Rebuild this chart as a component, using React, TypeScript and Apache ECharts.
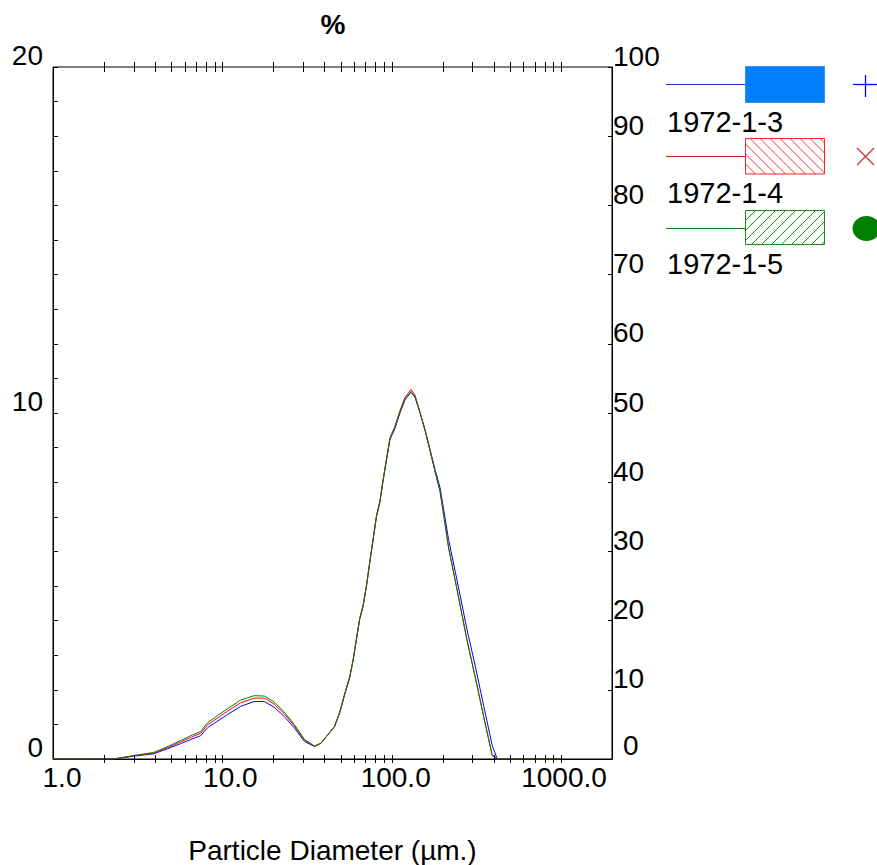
import React, { useEffect, useRef } from "react";
import * as echarts from "echarts";

// Particle diameters (µm)
const sizes = [1.0, 2.0, 2.27, 2.99, 3.93, 4.71, 5.65, 6.48, 7.43, 8.15, 9.34, 10.7, 12.8, 15.4, 17.7, 20.2, 23.2, 26.6, 30.5, 35.0, 38.3, 42.0, 46.0, 49.3, 52.7, 56.5, 59.2, 61.9, 64.7, 67.8, 71.0, 74.2, 77.7, 81.4, 85.1, 89.2, 93.3, 97.6, 104.5, 111.9, 119.8, 130.0, 137.3, 147.1, 157.4, 168.6, 180.5, 193.3, 216.8, 242.9, 278.5, 311.9, 349.9, 392.0, 419.8, 1000];

const s1972_1_3 = [0, 0, 0, 0.08, 0.15, 0.29, 0.44, 0.56, 0.67, 0.90, 1.09, 1.28, 1.52, 1.66, 1.66, 1.50, 1.23, 0.90, 0.51, 0.36, 0.46, 0.70, 0.94, 1.33, 1.85, 2.35, 2.85, 3.45, 4.03, 4.41, 4.99, 5.66, 6.34, 7.01, 7.40, 8.07, 8.65, 9.23, 9.55, 10.0, 10.38, 10.60, 10.46, 10.0, 9.52, 8.94, 8.36, 7.83, 6.34, 5.18, 3.74, 2.68, 1.52, 0.40, 0, 0];

const s1972_1_4 = [0, 0, 0, 0.09, 0.17, 0.32, 0.49, 0.62, 0.74, 0.98, 1.18, 1.38, 1.62, 1.76, 1.76, 1.59, 1.31, 0.96, 0.55, 0.37, 0.46, 0.70, 0.95, 1.35, 1.88, 2.38, 2.88, 3.48, 4.06, 4.45, 5.03, 5.70, 6.38, 7.05, 7.45, 8.12, 8.70, 9.28, 9.62, 10.07, 10.45, 10.68, 10.52, 10.02, 9.50, 8.90, 8.30, 7.72, 6.12, 4.92, 3.45, 2.36, 1.22, 0.12, 0, 0];

const s1972_1_5 = [0, 0, 0, 0.10, 0.19, 0.35, 0.53, 0.67, 0.79, 1.04, 1.25, 1.45, 1.70, 1.83, 1.82, 1.65, 1.36, 1.00, 0.57, 0.37, 0.46, 0.70, 0.94, 1.33, 1.86, 2.36, 2.86, 3.46, 4.04, 4.43, 5.01, 5.68, 6.36, 7.03, 7.42, 8.09, 8.67, 9.25, 9.58, 10.03, 10.40, 10.62, 10.47, 10.0, 9.50, 8.90, 8.30, 7.72, 6.10, 4.90, 3.42, 2.34, 1.20, 0.10, 0, 0];

const seriesNames = ["1972-1-3", "1972-1-4", "1972-1-5"];
const seriesColors = ["#0000ff", "#ff0000", "#008000"];

// minor/major tick positions on the log axis
const xTicks = [2, 3, 4, 5, 6, 7, 8, 9, 10, 20, 30, 40, 50, 60, 70, 80, 90, 100, 200, 300, 400, 500, 600, 700, 800, 900, 1000];

const FONT = '"Liberation Sans", Arial, sans-serif';

function hatch(x0: number, y0: number, w: number, h: number, dir: number, color: string, step: number) {
  const out: any[] = [];
  const x1 = x0 + w;
  const y1 = y0 + h;
  for (let c = x0 - h; c < x1; c += step) {
    const sx = Math.max(c, x0);
    const ex = Math.min(c + h, x1);
    if (ex <= sx) continue;
    let ya: number, yb: number;
    if (dir > 0) {
      ya = y0 + (sx - c);
      yb = y0 + (ex - c);
    } else {
      ya = y1 - (sx - c);
      yb = y1 - (ex - c);
    }
    out.push({ type: "line", silent: true, shape: { x1: sx, y1: ya, x2: ex, y2: yb }, style: { stroke: color, lineWidth: 1 } });
  }
  return out;
}

export default function App() {
  const ref = useRef<HTMLDivElement>(null);
  useEffect(() => {
    if (!ref.current) return;
    const chart = echarts.init(ref.current, null, { renderer: "svg" });
    const seriesData = [s1972_1_3, s1972_1_4, s1972_1_5];
    const pads: Record<number, number> = { 0: 18, 1: 16, 2: 8, 3: 6 };
    const rich: any = {};
    [0, 1, 2, 3].forEach((k) => {
      rich["p" + k] = { fontSize: 28, fontFamily: FONT, color: "#000", padding: [0, 0, 0, pads[k]] };
    });

    const legend: any[] = [];
    // blue
    legend.push({ type: "line", shape: { x1: 666, y1: 84.5, x2: 746, y2: 84.5 }, style: { stroke: "#2020e0", lineWidth: 1 } });
    legend.push({ type: "rect", shape: { x: 745.5, y: 66.5, width: 79, height: 36 }, style: { fill: "#0080ff", stroke: "#3a8ee8", lineWidth: 1 } });
    legend.push({ type: "line", shape: { x1: 853, y1: 84.5, x2: 877, y2: 84.5 }, style: { stroke: "#0000ff", lineWidth: 1.3 } });
    legend.push({ type: "line", shape: { x1: 865.5, y1: 75, x2: 865.5, y2: 97 }, style: { stroke: "#0000ff", lineWidth: 1.3 } });
    legend.push({ type: "text", x: 667, y: 121.5, style: { text: seriesNames[0], font: `29px ${FONT}`, fill: "#000", verticalAlign: "middle" } });
    // red
    legend.push({ type: "line", shape: { x1: 666, y1: 156.5, x2: 746, y2: 156.5 }, style: { stroke: "#e02020", lineWidth: 1 } });
    legend.push(...hatch(745.5, 138.5, 79, 35.5, 1, "#ff3030", 10));
    legend.push({ type: "rect", shape: { x: 745.5, y: 138.5, width: 79, height: 35.5 }, style: { fill: "none", stroke: "#ff2020", lineWidth: 1 } });
    legend.push({ type: "line", shape: { x1: 857, y1: 148, x2: 874, y2: 165 }, style: { stroke: "#c03838", lineWidth: 1.2 } });
    legend.push({ type: "line", shape: { x1: 857, y1: 165, x2: 874, y2: 148 }, style: { stroke: "#c03838", lineWidth: 1.2 } });
    legend.push({ type: "text", x: 667, y: 193, style: { text: seriesNames[1], font: `29px ${FONT}`, fill: "#000", verticalAlign: "middle" } });
    // green
    legend.push({ type: "line", shape: { x1: 666, y1: 228.5, x2: 746, y2: 228.5 }, style: { stroke: "#108010", lineWidth: 1 } });
    legend.push(...hatch(745.5, 210.5, 79, 34, -1, "#00a000", 10));
    legend.push({ type: "rect", shape: { x: 745.5, y: 210.5, width: 79, height: 34 }, style: { fill: "none", stroke: "#1a8a1a", lineWidth: 1 } });
    legend.push({ type: "ellipse", shape: { cx: 866.5, cy: 228.5, rx: 14, ry: 12.5 }, style: { fill: "#008000" } });
    legend.push({ type: "text", x: 667, y: 263.5, style: { text: seriesNames[2], font: `29px ${FONT}`, fill: "#000", verticalAlign: "middle" } });
    // title
    legend.push({ type: "text", x: 333, y: 24, style: { text: "%", font: `bold 28px ${FONT}`, fill: "#000", align: "center", verticalAlign: "middle" } });

    const option: any = {
      animation: false,
      backgroundColor: "#fff",
      grid: {
        left: 53, right: 265, top: 67, bottom: 106,
        containLabel: false, outerBoundsMode: "none",
        show: true, borderColor: "#000", borderWidth: 1, backgroundColor: "transparent",
      },
      xAxis: [
        {
          type: "log",
          logBase: 10,
          min: 1,
          max: 2000,
          position: "bottom",
          axisLine: { show: true, lineStyle: { color: "#000", width: 1 } },
          axisTick: { show: false },
          minorTick: { show: false },
          splitLine: { show: false },
          axisLabel: {
            show: true,
            margin: 4,
            showMaxLabel: false,
            formatter: (v: number) => {
              const l = Math.log10(v);
              const r = Math.round(l);
              if (Math.abs(l - r) > 1e-6 || r < 0 || r > 3) return "";
              return `{p${r}|${Math.pow(10, r).toFixed(1)}}`;
            },
            rich,
            fontSize: 28,
            fontFamily: FONT,
            color: "#000",
          },
          name: "Particle Diameter (µm.)",
          nameLocation: "middle",
          nameGap: 77,
          nameTextStyle: { fontSize: 28, fontFamily: FONT, color: "#000" },
        },
      ],
      yAxis: [
        {
          type: "value",
          min: 0,
          max: 20,
          interval: 1,
          position: "left",
          axisLine: { show: true, lineStyle: { color: "#000", width: 1 } },
          axisTick: { show: true, inside: true, length: 5, lineStyle: { color: "#000" } },
          splitLine: { show: false },
          axisLabel: {
            formatter: (v: number) => (v % 10 === 0 ? String(v) : ""),
            fontSize: 28,
            fontFamily: FONT,
            color: "#000",
            verticalAlign: "bottom",
            lineHeight: 24,
            margin: 10,
            showMaxLabel: true,
            showMinLabel: true,
          },
        },
        {
          type: "value",
          min: 0,
          max: 100,
          interval: 10,
          position: "right",
          axisLine: { show: true, lineStyle: { color: "#000", width: 1 } },
          axisTick: { show: true, inside: true, length: 4, lineStyle: { color: "#000" } },
          splitLine: { show: false },
          axisLabel: {
            formatter: (v: number) => (v === 0 ? "{z|0}" : String(v)),
            rich: { z: { fontSize: 28, fontFamily: FONT, color: "#000", lineHeight: 28, padding: [0, 0, 0, 10] } },
            fontSize: 28,
            fontFamily: FONT,
            color: "#000",
            verticalAlign: "bottom",
            lineHeight: 22,
            margin: 1,
            showMaxLabel: true,
            showMinLabel: true,
          },
        },
      ],
      series: [
        ...seriesData.map((arr, i) => ({
          name: seriesNames[i],
          type: "line",
          xAxisIndex: 0,
          yAxisIndex: 0,
          data: sizes.map((d, j) => [d, arr[j]]),
          showSymbol: false,
          symbol: "none",
          smooth: false,
          lineStyle: { color: seriesColors[i], width: 1 },
          itemStyle: { color: seriesColors[i] },
          z: 3 + i,
        })),
        {
          type: "custom",
          xAxisIndex: 0,
          yAxisIndex: 0,
          silent: true,
          data: xTicks.map((v) => [v, 0]),
          encode: { x: 0, y: 1 },
          z: 10,
          renderItem: (params: any, api: any) => {
            const v = api.value(0);
            const pb = api.coord([v, 0]);
            const pt = api.coord([v, 20]);
            const x = Math.round(pb[0]) + 0.5;
            return {
              type: "group",
              children: [
                { type: "line", shape: { x1: x, y1: pb[1] - 4, x2: x, y2: pb[1] + 4 }, style: { stroke: "#000", lineWidth: 1 } },
                { type: "line", shape: { x1: x, y1: pt[1] - 5, x2: x, y2: pt[1] + 5 }, style: { stroke: "#000", lineWidth: 1 } },
              ],
            };
          },
        },
      ],
      graphic: legend,
    };
    chart.setOption(option);
    return () => chart.dispose();
  }, []);
  return <div ref={ref} style={{ position: "fixed", left: 0, top: 0, width: 877, height: 865, background: "#fff" }} />;
}
